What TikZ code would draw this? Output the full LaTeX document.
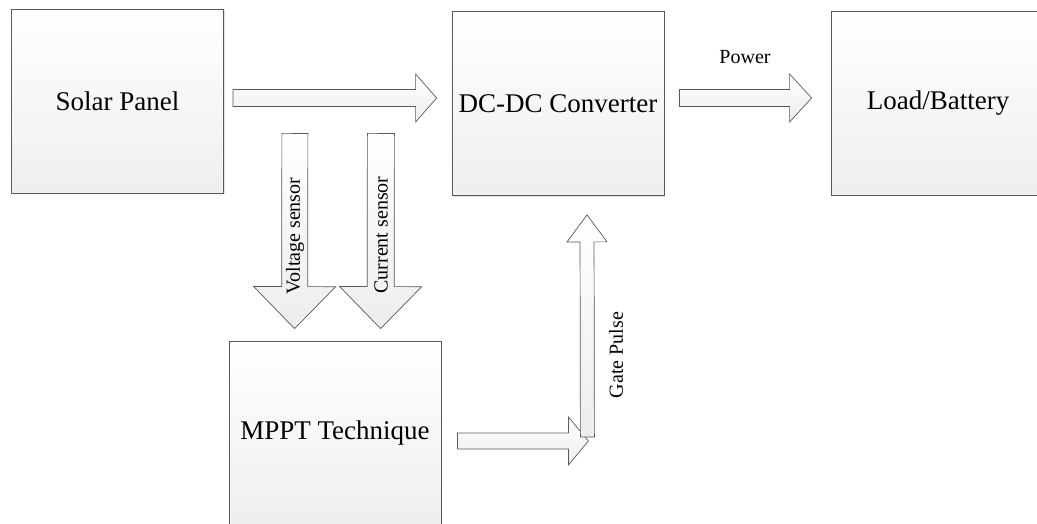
\documentclass[tikz,border=0pt]{standalone}
\usepackage{fontspec}
\setmainfont{Liberation Serif}
\usetikzlibrary{calc,shadows}

\tikzset{
  blockbox/.style={draw=gray!70!black, line width=0.8pt, top color=white,
    bottom color=gray!13, minimum width=212pt, minimum height=184pt,
    inner sep=0pt, font=\fontsize{27}{30}\selectfont,
    drop shadow={shadow xshift=1.2pt, shadow yshift=-1.2pt, opacity=0.25, fill=gray}},
  blockarrow/.style={draw=gray!70!black, line width=0.7pt, line join=miter,
    top color=white, bottom color=gray!14},
  arrowlabel/.style={font=\fontsize{20}{22}\selectfont, inner sep=0pt}
}

% fat arrow from #1 to #2: shaft half-width #3, head half-width #4, head length #5 (all in pt)
\newcommand\fatarrow[5]{%
  \coordinate (hb) at ($(#2)!#5pt!(#1)$);
  \path[blockarrow]
    ($(#1)!#3pt!90:(#2)$) -- ($(hb)!#3pt!-90:(#1)$) -- ($(hb)!#4pt!-90:(#1)$) --
    (#2) -- ($(hb)!#4pt!90:(#1)$) -- ($(hb)!#3pt!90:(#1)$) --
    ($(#1)!#3pt!-90:(#2)$) -- cycle;
}

\begin{document}
\begin{tikzpicture}[x=1pt,y=-1pt]
\useasboundingbox (0,0) rectangle (1037,523);

% blocks
\node[blockbox] (solar) at (117.5,101) {Solar Panel};
\node[blockbox] (conv)  at (558,103.5) {DC-DC Converter};
\node[blockbox, minimum width=214pt] (load) at (938,103) {Load/Battery};
\node[blockbox] (mppt)  at (335,433) {MPPT Technique};

% connector end points
\coordinate (pvS)   at ($(solar.east)+(9,-3)$);
\coordinate (pvE)   at ($(conv.west)+(-15,-5.5)$);
\coordinate (pwS)   at ($(conv.east)+(15,-5.5)$);
\coordinate (pwE)   at ($(load.west)+(-19,-5)$);
\coordinate (vS)    at ($(solar.south east)+(71,-60)$);
\coordinate (vE)    at ($(mppt.north west)+(66,-12)$);
\coordinate (cS)    at ($(solar.south east)+(157,-60)$);
\coordinate (cE)    at ($(mppt.north west)+(152,-12)$);
\coordinate (mS)    at ($(mppt.east)+(16,8)$);
\coordinate (mE)    at ($(mppt.east)+(147,8)$);
\coordinate (gS)    at ($(mE)+(-1,-4)$);
\coordinate (gE)    at ($(conv.south)+(29,19)$);

% fat arrows
\fatarrow{pvS}{pvE}{8.5}{24}{21}
\fatarrow{pwS}{pwE}{8.5}{24}{22}
\fatarrow{vS}{vE}{13}{41}{42}
\fatarrow{cS}{cE}{13.5}{41}{42}
\fatarrow{mS}{mE}{8}{24}{20}
\fatarrow{gS}{gE}{7}{20}{27}

% labels
\node[arrowlabel] (pwlbl) at (745,57) {Power};
\node[arrowlabel, rotate=90] (vlbl) at (295,236) {Voltage sensor};
\node[arrowlabel, rotate=90] (clbl) at (381,235) {Current sensor};
\node[arrowlabel, rotate=90] (glbl) at (616,355) {Gate Pulse};
\end{tikzpicture}
\end{document}
